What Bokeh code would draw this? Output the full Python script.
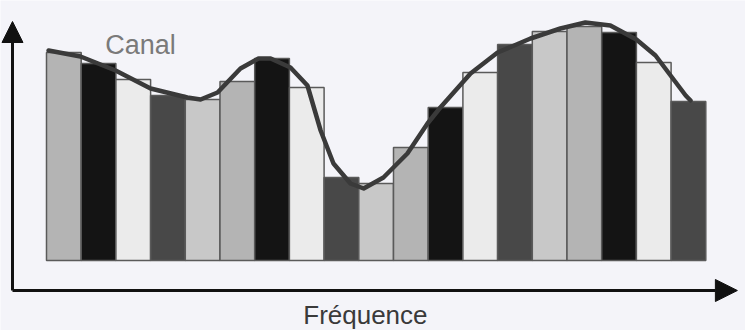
from bokeh.plotting import figure
from bokeh.models import Range1d, ColumnDataSource, Arrow, NormalHead, Label
from bokeh.embed import file_html
from bokeh.resources import INLINE

# ---- data ----
channels = list(range(19))
levels = [208, 197, 181, 165, 161, 179, 202, 173, 83, 77, 113, 153, 188, 216, 229, 234, 228, 198, 159]

curve_x = [-0.44, 0.48, 1.49, 2.50, 3.56, 3.94, 4.43, 5.09, 5.61, 5.96, 6.53, 7.02, 7.40, 7.77,
           8.26, 8.64, 9.21, 9.90, 10.48, 10.85, 11.72, 12.50, 13.45, 14.31, 15.03, 15.75,
           16.50, 17.05, 17.92, 18.06]
curve_y = [210, 204, 190, 172, 163, 161, 168, 192, 202, 202, 193, 175, 130, 97,
           77, 72, 83, 107, 137, 153, 187, 208, 222, 232, 238, 235,
           221, 205, 165, 160]

title_canal = "Canal"
title_freq = "Fréquence"

# ---- styles ----
palette = ["#b4b4b4", "#141414", "#ebebeb", "#484848", "#c8c8c8"]
bg = "#f4f4f9"

colors = [palette[i % 5] for i in channels]
src = ColumnDataSource(dict(x=channels, top=levels, color=colors))

p = figure(width=745, height=330, output_backend="svg", toolbar_location=None,
           x_range=Range1d(-1.8256, 19.644), y_range=Range1d(-70, 260),
           x_axis_type=None, y_axis_type=None, min_border=0,
           background_fill_color=bg, border_fill_color=bg, outline_line_color=None)
p.grid.visible = False

p.vbar(x="x", top="top", bottom=0, width=1.0, fill_color="color", source=src,
       line_color="#5a5a5a", line_width=1.5)

p.line(curve_x, curve_y, line_color="#3a3a3a", line_width=4.5, line_join="round", line_cap="round")

# axes with arrows
p.add_layout(Arrow(end=NormalHead(size=21, fill_color="#111111", line_color="#111111"),
                   x_start=-1.48, y_start=-30, x_end=-1.48, y_end=239,
                   line_color="#111111", line_width=3))
p.add_layout(Arrow(end=NormalHead(size=22, fill_color="#111111", line_color="#111111"),
                   x_start=-1.48, y_start=-30, x_end=19.41, y_end=-30,
                   line_color="#111111", line_width=3))

p.add_layout(Label(x=2.21, y=216, text=title_canal, text_align="center", text_baseline="alphabetic",
                   text_font="Liberation Sans", text_font_size="27px", text_color="#7a7a7a"))
p.add_layout(Label(x=8.69, y=-54, text=title_freq, text_align="center", text_baseline="alphabetic",
                   text_font="Liberation Sans", text_font_size="26px", text_color="#3a3a3a"))

open("out.html", "w").write(file_html(p, INLINE))
